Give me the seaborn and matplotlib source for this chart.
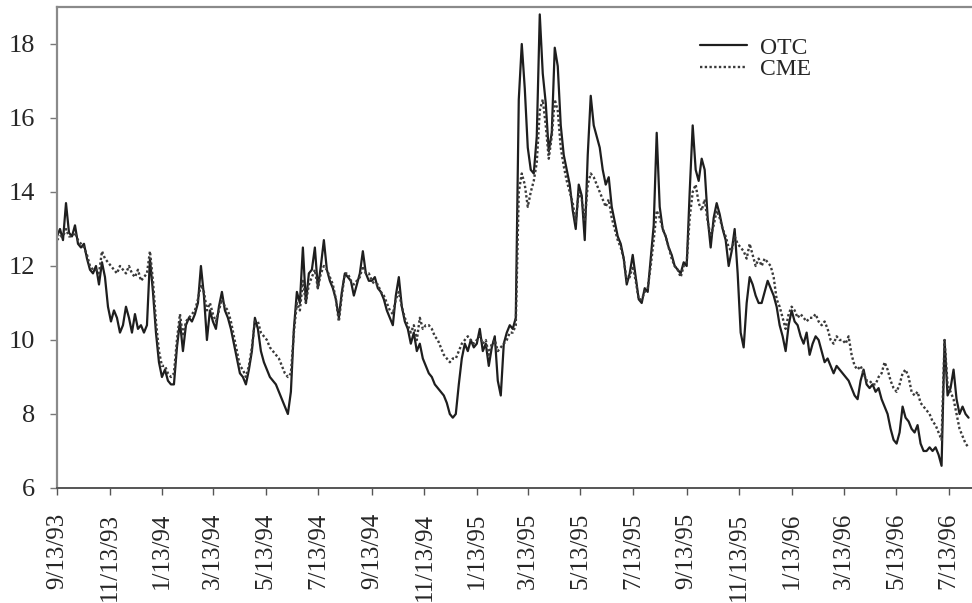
import numpy as np
import pandas as pd
import matplotlib
matplotlib.use("Agg")
import matplotlib.pyplot as plt
import seaborn as sns

# Implied volatility (%) sampled at even intervals, 9/13/93 .. early 8/96
start_date = "1993-09-13"
end_date = "1996-08-05"

otc = [
    12.8, 13.0, 12.7, 13.7, 12.9, 12.8, 13.1, 12.6, 12.5, 12.6,
    12.2, 11.9, 11.8, 12.0, 11.5, 12.1, 11.7, 10.9, 10.5, 10.8,
    10.6, 10.2, 10.4, 10.9, 10.6, 10.2, 10.7, 10.3, 10.4, 10.2,
    10.4, 12.2, 11.3, 10.2, 9.4, 9.0, 9.2, 8.9, 8.8, 8.8,
    9.8, 10.5, 9.7, 10.4, 10.6, 10.5, 10.7, 11.0, 12.0, 11.2,
    10.0, 10.8, 10.5, 10.3, 10.9, 11.3, 10.8, 10.6, 10.3, 9.9,
    9.5, 9.1, 9.0, 8.8, 9.2, 9.7, 10.6, 10.3, 9.7, 9.4,
    9.2, 9.0, 8.9, 8.8, 8.6, 8.4, 8.2, 8.0, 8.6, 10.3,
    11.3, 11.0, 12.5, 11.0, 11.8, 11.9, 12.5, 11.4, 12.0, 12.7,
    11.9, 11.6, 11.4, 11.1, 10.6, 11.3, 11.8, 11.7, 11.6, 11.2,
    11.5, 11.8, 12.4, 11.8, 11.6, 11.6, 11.7, 11.4, 11.3, 11.1,
    10.8, 10.6, 10.4, 11.2, 11.7, 10.9, 10.5, 10.3, 9.9, 10.2,
    9.7, 9.9, 9.5, 9.3, 9.1, 9.0, 8.8, 8.7, 8.6, 8.5,
    8.3, 8.0, 7.9, 8.0, 8.8, 9.5, 9.9, 9.7, 10.0, 9.8,
    9.9, 10.3, 9.7, 9.9, 9.3, 9.8, 10.1, 8.9, 8.5, 9.9,
    10.2, 10.4, 10.3, 10.6, 16.5, 18.0, 16.8, 15.2, 14.6, 14.5,
    15.5, 18.8, 17.2, 16.4, 15.1, 15.6, 17.9, 17.4, 15.8, 15.0,
    14.6, 14.2, 13.5, 13.0, 14.2, 13.9, 12.7, 15.0, 16.6, 15.8,
    15.5, 15.2, 14.6, 14.2, 14.4, 13.6, 13.2, 12.8, 12.6, 12.2,
    11.5, 11.8, 12.3, 11.7, 11.1, 11.0, 11.4, 11.3, 12.2, 13.1,
    15.6, 13.6, 13.0, 12.8, 12.5, 12.3, 12.0, 11.9, 11.8, 12.1,
    12.0, 14.0, 15.8, 14.6, 14.3, 14.9, 14.6, 13.3, 12.5, 13.3,
    13.7, 13.4, 13.0, 12.7, 12.0, 12.4, 13.0, 11.8, 10.2, 9.8,
    11.0, 11.7, 11.5, 11.2, 11.0, 11.0, 11.3, 11.6, 11.4, 11.2,
    10.9, 10.4, 10.1, 9.7, 10.4, 10.8, 10.5, 10.4, 10.1, 9.9,
    10.2, 9.6, 9.9, 10.1, 10.0, 9.7, 9.4, 9.5, 9.3, 9.1,
    9.3, 9.2, 9.1, 9.0, 8.9, 8.7, 8.5, 8.4, 8.9, 9.2,
    8.8, 8.7, 8.8, 8.6, 8.7, 8.4, 8.2, 8.0, 7.6, 7.3,
    7.2, 7.5, 8.2, 7.9, 7.8, 7.6, 7.5, 7.7, 7.2, 7.0,
    7.0, 7.1, 7.0, 7.1, 6.9, 6.6, 10.0, 8.5, 8.7, 9.2,
    8.4, 8.0, 8.2, 8.0, 7.9,
]

cme = [
    12.7, 12.8, 12.8, 13.0, 12.8, 12.8, 12.9, 12.7, 12.6, 12.5,
    12.3, 12.0, 11.9, 11.9, 11.8, 12.4, 12.2, 12.1, 12.0, 11.9,
    11.8, 12.0, 11.9, 11.8, 12.0, 11.8, 11.7, 11.9, 11.6, 11.7,
    11.8, 12.4, 11.6, 10.5, 9.7, 9.3, 9.3, 9.1, 9.0, 9.1,
    10.0, 10.7, 10.1, 10.5, 10.6, 10.7, 10.8, 11.1, 11.5, 11.3,
    10.8, 11.0, 10.7, 10.5, 10.8, 11.1, 10.9, 10.8, 10.5, 10.1,
    9.7, 9.3, 9.2, 9.0, 9.3, 9.8, 10.5, 10.5, 10.2, 10.1,
    10.0, 9.8, 9.7, 9.6, 9.5, 9.3, 9.1, 9.0, 9.1, 10.2,
    11.0, 10.8, 11.6, 11.0, 11.5, 11.7, 11.9, 11.4, 11.8, 12.0,
    11.9, 11.7, 11.5, 11.1, 10.5, 11.2, 11.8, 11.8, 11.6, 11.5,
    11.6, 11.7, 12.0, 11.8, 11.8, 11.6, 11.5, 11.5, 11.3, 11.2,
    11.0, 10.8, 10.7, 11.1, 11.3, 10.9, 10.6, 10.4, 10.2, 10.4,
    10.0, 10.6, 10.3, 10.4, 10.4, 10.3, 10.1, 10.0, 9.8, 9.6,
    9.5, 9.4, 9.5, 9.5, 9.7, 9.9, 10.0, 10.1, 10.0, 9.9,
    10.0, 10.1, 9.9, 10.0, 9.6, 9.9, 10.0, 9.7, 9.8, 9.9,
    10.0, 10.2, 10.2, 10.4, 14.0, 14.5, 14.2, 13.6, 14.0, 14.3,
    14.8, 16.2, 16.5, 15.8, 14.9, 15.5, 16.5, 16.2, 15.2, 14.7,
    14.3, 14.0, 13.7, 13.2, 14.0, 13.8, 13.2, 14.2, 14.5, 14.4,
    14.2, 14.0, 13.8, 13.6, 13.8, 13.3, 13.0, 12.7, 12.5, 12.2,
    11.6, 11.7, 12.0, 11.6, 11.1, 11.1, 11.3, 11.4, 12.0, 12.7,
    13.5, 13.3, 13.0, 12.8, 12.5, 12.2, 12.0, 11.9, 11.7, 12.0,
    12.1, 13.3, 14.0, 14.2, 13.7, 13.5, 13.8, 13.2, 12.8, 13.1,
    13.5, 13.3, 13.0, 12.8, 12.5, 12.4, 12.8, 12.6, 12.5, 12.4,
    12.2, 12.6, 12.3, 12.0, 12.2, 12.0, 12.2, 12.1, 12.0, 11.7,
    11.1, 10.9, 10.6, 10.3, 10.7, 10.9, 10.8, 10.6, 10.7, 10.6,
    10.5, 10.6, 10.6, 10.7, 10.5, 10.4, 10.5, 10.3, 10.0, 9.9,
    10.1, 10.0, 10.0, 9.9, 10.1, 9.6, 9.3, 9.2, 9.3, 9.1,
    8.9, 8.9, 8.8, 8.8, 9.0, 9.1, 9.4, 9.2, 8.9, 8.7,
    8.6, 8.8, 9.1, 9.2, 9.0, 8.6, 8.5, 8.6, 8.3, 8.2,
    8.1, 8.0, 7.8, 7.7, 7.5, 7.3, 10.0, 8.8, 8.6, 8.4,
    8.0, 7.6, 7.4, 7.2, 7.1,
]

tick_dates = pd.to_datetime([
    "1993-09-13", "1993-11-13", "1994-01-13", "1994-03-13", "1994-05-13",
    "1994-07-13", "1994-09-13", "1994-11-13", "1995-01-13", "1995-03-13",
    "1995-05-13", "1995-07-13", "1995-09-13", "1995-11-13", "1996-01-13",
    "1996-03-13", "1996-05-13", "1996-07-13",
])
y_ticks = [6, 8, 10, 12, 14, 16, 18]

dates = pd.date_range(start_date, end_date, periods=len(otc))
df = pd.DataFrame({"date": dates, "OTC": otc, "CME": cme})

sns.set_style("white")
plt.rcParams["font.family"] = ["Liberation Serif", "DejaVu Serif"]

fig = plt.figure(figsize=(9.72, 6.03), dpi=100)
ax = fig.add_axes([57 / 972, 1 - 488 / 603, 1 - 57 / 972, (488 - 7) / 603])

sns.lineplot(data=df, x="date", y="OTC", ax=ax, color="#1e1e1e",
             linewidth=1.6, label="OTC")
sns.lineplot(data=df, x="date", y="CME", ax=ax, color="#3a3a3a",
             linewidth=1.7, linestyle=(0, (1.0, 1.0)), label="CME")

ax.set_xlim(pd.Timestamp("1993-09-13"), pd.Timestamp("1996-08-09"))
ax.set_ylim(6, 19)
ax.set_yticks(y_ticks)
ax.set_xticks(tick_dates)
ax.set_xticklabels([f"{d.month}/{d.day}/{d.strftime('%y')}" for d in tick_dates],
                   rotation=90, ha="center", va="top")
ax.set_xlabel("")
ax.set_ylabel("")

ax.tick_params(axis="y", direction="out", length=5, width=1.0, color="#777777",
               labelsize=19, pad=11, left=True)
ax.tick_params(axis="x", direction="out", length=5, width=1.0, color="#555555",
               labelsize=18, pad=13, bottom=True)

for side in ["left", "top"]:
    ax.spines[side].set_color("#8a8a8a")
    ax.spines[side].set_linewidth(1.6)
ax.spines["bottom"].set_color("#555555")
ax.spines["bottom"].set_linewidth(1.4)
ax.spines["right"].set_visible(False)

leg = ax.legend(loc="upper left", bbox_to_anchor=(700 / 972, 1 - 37 / 603),
                bbox_transform=fig.transFigure, frameon=False, fontsize=17,
                handlelength=2.0, handletextpad=0.55, labelspacing=0.0,
                borderpad=0, borderaxespad=0)

fig.savefig("out.png", dpi=100)
